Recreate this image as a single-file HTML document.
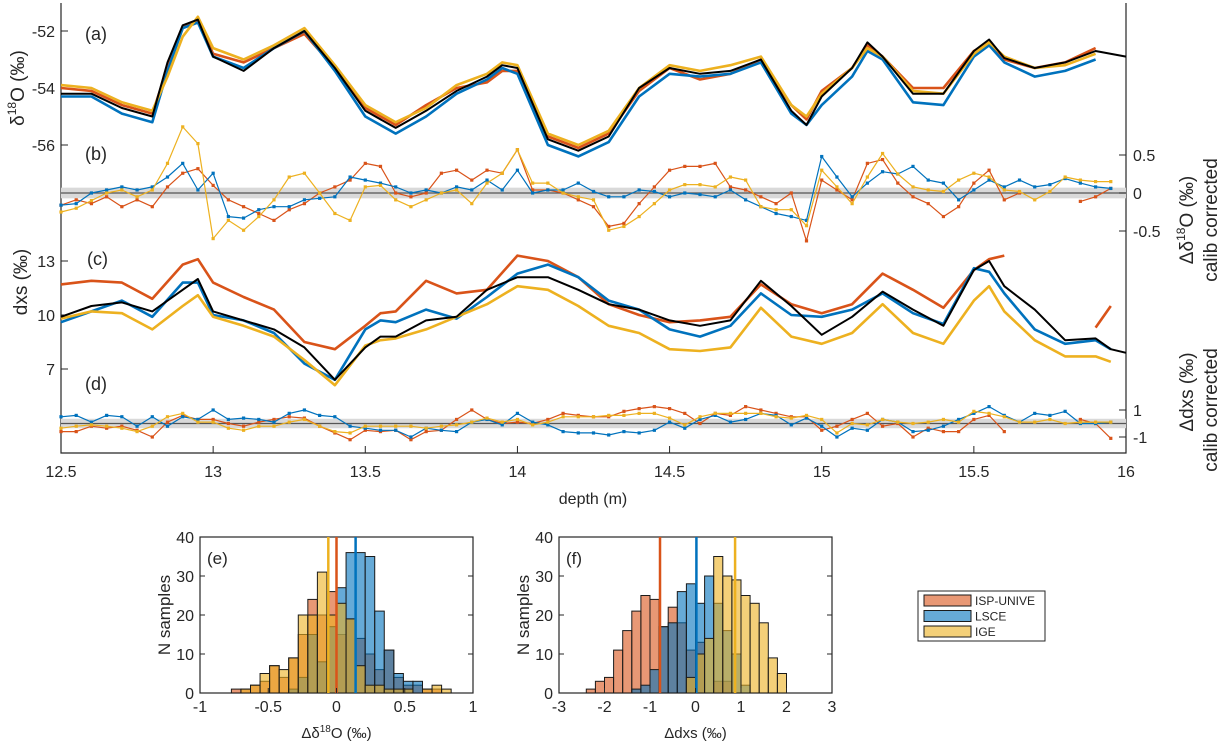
<!DOCTYPE html>
<html><head><meta charset="utf-8">
<style>
body{margin:0;background:#fff;}
svg{display:block;font-family:"Liberation Sans",Arial,sans-serif;}
</style></head>
<body>
<svg id="chart" width="1222" height="745" viewBox="0 0 1222 745">
</svg>
<script>
// ---------- data ----------
const depthA = [12.5,12.6,12.7,12.8,12.85,12.9,12.95,13.0,13.1,13.2,13.3,13.4,13.5,13.6,13.7,13.8,13.9,13.95,14.0,14.1,14.2,14.3,14.4,14.5,14.6,14.7,14.8,14.9,14.95,15.0,15.1,15.15,15.2,15.3,15.4,15.5,15.55,15.6,15.7,15.8,15.9,16.0];
const d18oBlack = [-54.2,-54.2,-54.7,-55.0,-53.1,-51.8,-51.6,-52.9,-53.4,-52.6,-52.0,-53.3,-54.8,-55.4,-54.8,-54.1,-53.6,-53.2,-53.3,-55.8,-56.2,-55.7,-54.0,-53.3,-53.5,-53.4,-53.0,-54.8,-55.3,-54.3,-53.3,-52.4,-52.9,-54.2,-54.2,-52.7,-52.3,-52.95,-53.3,-53.1,-52.7,-52.9];
const d18oLSCE = [-54.3,-54.3,-54.9,-55.2,-53.4,-51.9,-51.7,-52.9,-53.3,-52.6,-52.0,-53.4,-55.0,-55.6,-55.0,-54.2,-53.7,-53.3,-53.5,-56.0,-56.4,-55.9,-54.3,-53.5,-53.6,-53.5,-53.1,-54.9,-55.3,-54.6,-53.6,-52.7,-53.0,-54.5,-54.6,-52.9,-52.5,-53.1,-53.6,-53.4,-53.0,null];
const d18oUNIVE = [-54.0,-54.1,-54.6,-54.9,-53.3,-51.9,-51.6,-52.8,-53.1,-52.6,-52.1,-53.3,-54.7,-55.3,-54.6,-54.0,-53.8,-53.4,-53.4,-55.7,-56.1,-55.6,-54.1,-53.3,-53.7,-53.5,-53.0,-54.6,-55.1,-54.1,-53.3,-52.5,-52.9,-54.0,-54.0,-52.7,-52.4,-53.0,-53.3,-53.1,-52.6,null];
const d18oIGE = [-53.9,-54.0,-54.5,-54.8,-53.6,-52.2,-51.5,-52.6,-53.0,-52.5,-51.9,-53.2,-54.6,-55.2,-54.7,-53.9,-53.5,-53.1,-53.2,-55.6,-56.0,-55.5,-54.0,-53.2,-53.4,-53.2,-52.9,-54.6,-55.0,-54.2,-53.3,-52.6,-52.9,-54.1,-54.2,-52.8,-52.4,-52.9,-53.3,-53.2,-52.8,null];

const depthB = Array.from({length:70},(_,i)=>+(12.5+0.05*i).toFixed(2));
const diffD18oUNIVE = [-0.16,-0.09,-0.14,-0.05,-0.18,-0.09,-0.18,0.08,0.26,0.32,0.1,-0.09,-0.18,-0.27,-0.36,-0.22,-0.14,0,0.08,0.17,0.39,0.35,
 0,-0.05,0,0.26,0.3,0.17,0.3,0.26,0.57,0.04,0.04,0,-0.09,-0.18,-0.44,-0.4,-0.14,0.08,0.3,0.35,0.35,0.39,0.08,0.04,-0.05,-0.14,0,
 -0.63,0.17,0.04,-0.09,0.39,0.44,0.13,-0.05,-0.14,-0.31,-0.18,0.13,0.3,-0.09,0,null,null,null,-0.11,-0.05,0.06];
const diffD18oLSCE = [-0.16,-0.14,0,0.04,0.08,0.04,0.08,0.21,0.39,0.04,0.26,-0.31,-0.33,-0.22,-0.18,-0.18,-0.09,-0.07,-0.05,0.21,0.17,0.13,
 0.08,0,0.04,0,0.08,0.04,0.17,0.04,0.3,0,0.04,0.04,0.13,0.02,-0.05,-0.05,0.04,0.02,-0.05,0,-0.02,-0.05,0.04,-0.09,-0.18,-0.27,-0.31,
 -0.36,0.48,0.21,-0.05,0.13,0.28,0.25,0.35,0.17,0.13,-0.09,0.04,0.17,0.08,0.17,0.08,0.11,0.19,0.13,0.08,0.06];
const diffD18oIGE = [-0.25,-0.2,-0.1,0,0.04,-0.05,0.04,0.39,0.87,0.65,-0.6,-0.36,-0.49,-0.31,-0.09,0.21,0.26,0,-0.27,-0.36,0.08,0.1,
 -0.09,-0.18,-0.09,0,0.04,-0.14,0.13,0.26,0.57,0.13,0.13,0,-0.05,-0.09,-0.49,-0.44,-0.31,-0.14,0.04,0.11,0.11,0.08,0.21,0.17,-0.18,-0.22,-0.22,
 -0.43,0.3,0.08,-0.14,0.21,0.52,0.25,0.08,0.04,0.02,0.17,0.26,0.21,0.04,0.02,-0.09,0.02,0.21,0.17,0.15,0.15];

const depthC = [12.5,12.6,12.7,12.8,12.9,12.95,13.0,13.1,13.2,13.3,13.4,13.5,13.55,13.6,13.7,13.8,13.9,14.0,14.1,14.2,14.3,14.4,14.5,14.6,14.7,14.8,14.9,15.0,15.1,15.2,15.3,15.4,15.5,15.55,15.6,15.7,15.8,15.9,15.95,16.0];
const dxsBlack = [9.9,10.5,10.7,10.2,11.4,12.0,10.2,9.7,9.2,8.2,6.4,8.2,8.8,8.8,9.7,9.9,11.4,12.1,12.1,11.4,10.6,10.3,9.7,9.4,9.7,11.9,10.5,8.9,9.9,11.3,10.3,9.4,12.5,13.0,11.6,10.3,8.6,8.7,8.1,7.9];
const dxsUNIVE = [11.7,11.9,11.8,10.9,12.8,13.1,11.8,11.0,10.3,8.5,8.1,9.4,10.1,10.2,11.9,11.2,11.4,13.3,13.0,12.1,10.6,10.0,9.6,9.7,9.9,11.7,10.6,10.1,10.6,12.3,11.4,10.4,12.5,13.1,13.3,null,null,9.3,10.5,null];
const dxsLSCE = [9.6,10.2,10.8,9.9,11.8,11.8,10.0,9.7,9.0,7.3,6.4,9.2,9.7,9.6,10.3,9.8,11.0,12.3,12.8,12.1,10.8,10.3,9.2,8.8,9.4,11.2,10.0,9.9,10.3,11.2,10.1,9.5,12.6,12.4,11.2,9.2,8.4,8.6,8.1,null];
const dxsIGE = [9.8,10.2,10.1,9.2,10.5,11.1,9.9,9.4,8.8,7.5,6.1,8.3,8.6,8.7,9.2,9.9,10.6,11.6,11.4,10.5,9.4,9.0,8.1,8.0,8.2,10.4,8.8,8.4,9.0,10.6,9.0,8.4,10.8,11.6,10.2,8.6,7.7,7.7,7.4,null];

const diffDxsUNIVE = [-0.6,-0.6,-0.2,-0.35,-0.2,-0.5,-1.0,0.1,0.6,0.3,0.3,0,-0.2,0.1,0.3,0.5,0.4,-0.2,-0.7,-1.2,-0.5,-0.6,
 -0.5,-1.2,-0.6,-0.5,0.3,1.0,0.3,0,0.1,0,0.3,0.75,0.6,0.5,0.5,0.9,1.1,1.25,1.1,0.75,0,0.75,0.6,1.25,1.0,0.75,0.5,
 0.5,-0.5,-0.2,0.3,0.75,-0.2,0,-1.0,-0.35,-0.6,-0.6,0.3,0.6,-0.6,null,null,null,null,0.3,0,-1.1];
const diffDxsLSCE = [0.5,0.6,0.1,0.6,0.5,-0.2,0.5,-0.2,0.5,0.3,1.0,0.3,0.4,0.3,0.1,0.75,1.0,0.6,0.5,-0.2,-0.35,-0.5,
 -0.5,-1.0,-0.35,-0.5,-0.6,0.1,0.3,-0.1,0.75,0.1,-0.1,-0.6,-0.7,-0.7,-0.85,-0.6,-0.7,-0.5,0.1,-0.35,0.3,0.6,0.1,0.3,0.75,0.6,-0.1,
 0.4,-0.2,-1.0,-0.35,-0.5,0.3,0.1,-0.6,-0.5,-0.2,0.3,0.75,1.25,0.6,0.1,0.75,0.6,0.9,0,0,0.1];
const diffDxsIGE = [-0.35,-0.2,-0.1,-0.2,-0.35,-0.6,-0.2,0.5,0.75,0.1,0.1,-0.35,-0.5,-0.2,-0.2,0.1,0.3,-0.2,-0.6,-0.7,-0.2,-0.2,
 -0.2,-0.2,-0.35,-0.2,-0.1,0.1,0.4,0.1,0.3,-0.1,0.1,0.5,0.5,0.5,0.6,0.6,0.75,0.75,0.4,-0.1,0.5,0.75,0.75,0.75,0.75,0.5,0.4,
 0.6,0.3,-0.7,0,-0.1,0.3,0.1,0,0.1,0.3,0.1,0.9,0.75,0.5,0.1,0.1,0.3,0,0.1,0.1,0.1];

// histograms
const binsE = Array.from({length:23},(_,i)=>+(-0.77+0.07*i).toFixed(2));
const histE_UNIVE = [1,1,2,3,7,4,9,15,24,20,26,15,19,14,10,6,11,4,2,2,1,1,0];
const histE_LSCE  = [0,0,0,0,0,0,1,4,15,8,17,27,36,36,35,21,11,5,3,3,0,0,0];
const histE_IGE   = [0,1,2,5,7,6,9,20,20,31,20,23,19,7,2,2,1,1,1,0,1,2,1];
const meanE = [0.0,0.14,-0.06];
const binsF = Array.from({length:22},(_,i)=>+(-2.4+0.2*i).toFixed(2));
const histF_UNIVE = [1,3,4,11,16,21,25,24,17,22,18,11,13,0,3,3,0,0,0,0,0,0];
const histF_LSCE  = [0,0,0,0,0,1,2,6,17,18,26,28,23,30,23,16,10,2,0,0,0,0];
const histF_IGE   = [0,0,0,0,0,0,0,0,0,0,0,4,10,14,35,30,29,25,23,18,9,5];
const meanF = [-0.78,0.02,0.87];

const RED='#D95319', BLUE='#0072BD', YEL='#EDB120';
const svg=document.getElementById('chart');
const NS='http://www.w3.org/2000/svg';
function mk(tag,attrs,parent){const e=document.createElementNS(NS,tag);for(const k in attrs)e.setAttribute(k,attrs[k]);(parent||svg).appendChild(e);return e;}
function txt(s,x,y,size,anchor,parent,rot){const t=mk('text',{x:x,y:y,'font-size':size,'text-anchor':anchor||'middle',fill:'#262626'},parent);if(rot)t.setAttribute('transform','rotate(-90 '+x+' '+y+')');t.innerHTML=s;return t;}

// axes
const X=d=>61+(d-12.5)*(1126-61)/3.5;
const YA=v=>31+(-52-v)*28.5;
const YB=v=>193-v*76;
const YC=v=>315-(v-10)*18;
const YD=v=>423.5-v*13.5;

const frame=mk('g',{});


mk('path',{d:'M61,3 V453 H1126 V3',fill:'none',stroke:'#262626','stroke-width':1.2},frame);
[[YB,0.07],[YD,0.35]].forEach(([f,w],i)=>{
 const b=mk('rect',{x:61,y:f(w),width:1065,height:f(-w)-f(w),fill:'#d9d9d9'});
 
 
 const l=mk('line',{x1:61,x2:1126,y1:f(0),y2:f(0),stroke:'#555','stroke-width':1.3});
 
 
});
for(let d=12.5;d<=16.001;d+=0.5){
 mk('line',{x1:X(d),x2:X(d),y1:453,y2:446,stroke:'#262626'});
 const t=txt(String(+d.toFixed(1)),X(d),477,16);
 
 
}
const xt=txt('depth (m)',593,504,16);


[[-52,YA],[-54,YA],[-56,YA],[13,YC],[10,YC],[7,YC]].forEach(([v,f])=>{
 mk('line',{x1:61,x2:68,y1:f(v),y2:f(v),stroke:'#262626'});
 const t=txt(String(v),55,f(v)+6,16,'end');
 
 
});
[[0.5,YB],[0,YB],[-0.5,YB],[1,YD],[-1,YD]].forEach(([v,f])=>{
 mk('line',{x1:1119,x2:1126,y1:f(v),y2:f(v),stroke:'#262626'});
 const t=txt(String(v),1133,f(v)+6,16,'start');
 
 
});
[['(a)',85,40],['(b)',85,160],['(c)',87,265],['(d)',85,390]].forEach(([s,x,y])=>{
 const t=txt(s,x,y,18,'start');
 
 
});
let t;
t=txt('δ<tspan dy="-8" font-size="12">18</tspan><tspan dy="8">O (‰)</tspan>',24,88,19,'middle',null,true);


t=txt('dxs (‰)',27,282,19,'middle',null,true);


t=txt('Δδ<tspan dy="-8" font-size="12">18</tspan><tspan dy="8">O (‰)</tspan>',1193,220,19,'middle',null,true);


t=txt('calib corrected',1217,220,19,'middle',null,true);


t=txt('Δdxs (‰)',1193,392,19,'middle',null,true);


t=txt('calib corrected',1217,410,19,'middle',null,true);



function line(depths,vals,fy,color,w,name,markers){
 let d='',pen=false;
 const g=mk('g',{});
 
 
 depths.forEach((x,i)=>{const v=vals[i];if(v===null||v===undefined){pen=false;return;}
  d+=(pen?'L':'M')+X(x).toFixed(1)+','+fy(v).toFixed(1);pen=true;});
 mk('path',{d:d,fill:'none',stroke:color,'stroke-width':w,'stroke-linejoin':'round'},g);
 if(markers){depths.forEach((x,i)=>{const v=vals[i];if(v===null||v===undefined)return;
  mk('rect',{x:X(x)-1.6,y:fy(v)-1.6,width:3.2,height:3.2,fill:color},g);});}
}
line(depthA,d18oUNIVE,YA,RED,2.6,'d18o-isp-unive-line');
line(depthA,d18oLSCE,YA,BLUE,2.6,'d18o-lsce-line');
line(depthA,d18oIGE,YA,YEL,2.6,'d18o-ige-line');
line(depthA,d18oBlack,YA,'#000',2,'d18o-reference-line');
line(depthB,diffD18oUNIVE,YB,RED,1.2,'delta-d18o-isp-unive',true);
line(depthB,diffD18oLSCE,YB,BLUE,1.2,'delta-d18o-lsce',true);
line(depthB,diffD18oIGE,YB,YEL,1.2,'delta-d18o-ige',true);
line(depthC,dxsUNIVE,YC,RED,2.6,'dxs-isp-unive-line');
line(depthC,dxsLSCE,YC,BLUE,2.6,'dxs-lsce-line');
line(depthC,dxsIGE,YC,YEL,2.6,'dxs-ige-line');
line(depthC,dxsBlack,YC,'#000',2,'dxs-reference-line');
line(depthB,diffDxsUNIVE,YD,RED,1.2,'delta-dxs-isp-unive',true);
line(depthB,diffDxsLSCE,YD,BLUE,1.2,'delta-dxs-lsce',true);
line(depthB,diffDxsIGE,YD,YEL,1.2,'delta-dxs-ige',true);

function hist(x0,x1,xmin,xmax,bins,w,series,means,xticks,label,title,name){
 const y0=693,y1=537;
 const HX=v=>x0+(v-xmin)/(xmax-xmin)*(x1-x0);
 const HY=v=>y0-v/40*(y0-y1);
 const g=mk('g',{});
 
 
 mk('rect',{x:x0,y:y1,width:x1-x0,height:y0-y1,fill:'#fff',stroke:'#262626','stroke-width':1.2},g);
 const cols=[RED,BLUE,YEL];
 series.forEach((s,si)=>{s.forEach((c,i)=>{if(!c)return;
  const r=mk('rect',{x:HX(bins[i]),y:HY(c),width:HX(bins[i]+w)-HX(bins[i]),height:HY(0)-HY(c),fill:cols[si],'fill-opacity':0.6,stroke:'#1a1a1a','stroke-width':1},g);
  
  });});
 means.forEach((m,i)=>{const l=mk('line',{x1:HX(m),x2:HX(m),y1:y1,y2:y0,stroke:cols[i],'stroke-width':2.5},g);
  
  });
 [0,10,20,30,40].forEach(v=>{mk('line',{x1:x0,x2:x0+5,y1:HY(v),y2:HY(v),stroke:'#262626'},g);
  mk('line',{x1:x1,x2:x1-5,y1:HY(v),y2:HY(v),stroke:'#262626'},g);
  txt(String(v),x0-6,HY(v)+6,16,'end',g);});
 xticks.forEach(v=>{mk('line',{x1:HX(v),x2:HX(v),y1:y0,y2:y0-5,stroke:'#262626'},g);
  txt(String(v),HX(v),712,16,'middle',g);});
 txt(label,x0+7,y1+27,17,'start',g);
 txt('N samples',x0-30,615,17,'middle',g,true);
 txt(title,(x0+x1)/2,738,15,'middle',g);
}
hist(200,473,-1,1,binsE,0.07,[histE_UNIVE,histE_LSCE,histE_IGE],meanE,[-1,-0.5,0,0.5,1],'(e)','Δδ<tspan dy="-6" font-size="10">18</tspan><tspan dy="6">O (‰)</tspan>','histogram-e');
hist(559,832,-3,3,binsF,0.2,[histF_UNIVE,histF_LSCE,histF_IGE],meanF,[-3,-2,-1,0,1,2,3],'(f)','Δdxs (‰)','histogram-f');

const lg=mk('g',{});


mk('rect',{x:918,y:591,width:127,height:50,fill:'#fff',stroke:'#262626'},lg);
[['ISP-UNIVE',RED],['LSCE',BLUE],['IGE',YEL]].forEach(([n,c],i)=>{
 const e=mk('g',{},lg);
 
 
 mk('rect',{x:924,y:595+i*15.5,width:47,height:11,fill:c,'fill-opacity':0.6,stroke:'#1a1a1a'},e);
 txt(n,975,605+i*15.5,12,'start',e);
});
</script>
</body></html>
